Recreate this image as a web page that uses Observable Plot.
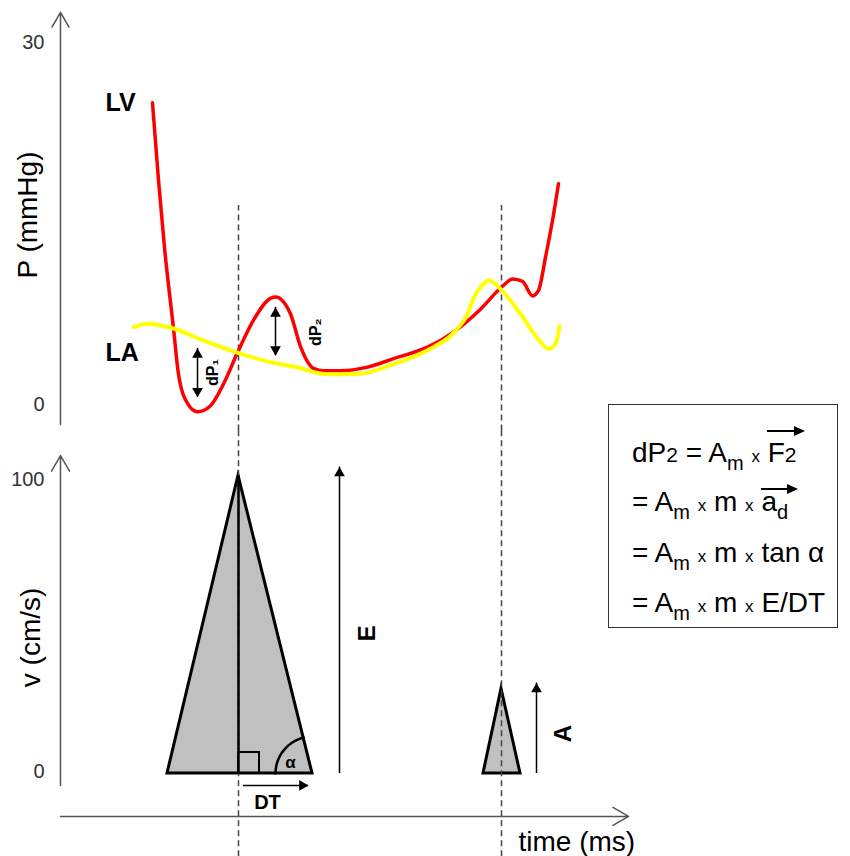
<!DOCTYPE html>
<html><head><meta charset="utf-8">
<script src="https://cdn.jsdelivr.net/npm/d3@7"></script>
<script src="https://cdn.jsdelivr.net/npm/@observablehq/plot@0.6"></script>
<style>
html,body{margin:0;padding:0;background:#fff;}
#wrap{position:relative;width:850px;height:856px;overflow:hidden;font-family:"Liberation Sans",Arial,sans-serif;}
#top{position:absolute;left:0;top:0;}
#bot{position:absolute;left:0;top:430px;}
#box{position:absolute;left:608px;top:404px;width:230px;height:224px;box-sizing:border-box;border:1.5px solid #333;background:#fff;}
.ln{position:absolute;left:23px;font-size:28px;line-height:30px;white-space:nowrap;color:#000;}
.s2{font-size:21px;}
.m{font-size:20px;position:relative;top:8px;}
.x{font-size:17px;}
.vec{position:relative;display:inline-block;}
.vec svg{position:absolute;overflow:visible;}
</style></head>
<body><div id="wrap"><div id="top"></div><div id="bot"></div>
<div id="box">
  <div class="ln" style="top:33px">dP<span class="s2">2</span> = A<span class="m">m</span> <span class="x">x</span> <span class="vec">F<span class="s2">2</span><svg width="38" height="10" style="left:-1px;top:-12px"><line x1="0" y1="5" x2="29" y2="5" stroke="#000" stroke-width="2"/><path d="M27,0L38,5L27,10Z" fill="#000"/></svg></span></div>
  <div class="ln" style="top:82px">= A<span class="m">m</span> <span class="x">x</span> m <span class="x">x</span> <span class="vec">a<span class="m">d</span><svg width="37" height="10" style="left:0px;top:-3px"><line x1="0" y1="5" x2="28" y2="5" stroke="#000" stroke-width="2"/><path d="M26,0L37,5L26,10Z" fill="#000"/></svg></span></div>
  <div class="ln" style="top:133px">= A<span class="m">m</span> <span class="x">x</span> m <span class="x">x</span> tan α</div>
  <div class="ln" style="top:183px">= A<span class="m">m</span> <span class="x">x</span> m <span class="x">x</span> E/DT</div>
</div></div>
<script>
// ---- data ----
const lvTime = [92, 98, 104, 113, 118, 127, 137, 150, 163, 177, 193, 210, 215, 230, 240, 253, 263, 280, 307, 333, 367, 393, 420, 442, 452, 462, 472, 478, 485, 492, 498];
const lvP    = [25.0, 18.6, 13.0, 6.3, 2.5, 0.1, -0.6, -0.1, 1.7, 4.3, 7.0, 8.8, 8.9, 7.5, 4.8, 3.0, 2.8, 2.8, 3.1, 3.8, 4.75, 6.0, 7.9, 9.8, 10.4, 10.2, 9.0, 9.45, 12.2, 15.25, 18.3];
const laTime = [73, 87, 113, 140, 177, 210, 233, 267, 300, 333, 367, 395, 407, 413, 420, 428, 442, 460, 477, 488, 495, 499];
const laP    = [6.4, 6.7, 6.3, 5.4, 4.3, 3.5, 3.15, 2.5, 2.55, 3.35, 4.5, 6.1, 7.5, 8.8, 9.7, 10.3, 9.4, 7.5, 5.5, 4.6, 5.0, 6.5];
const curveNames = ["LV", "LA"];
const curveLabelT = [45, 45];
const curveLabelP = [25.0, 4.3];
const pTicks = [0, 30];
const vTicks = [0, 100];
const dPName = ["dP₁", "dP₂"];
const dPTime = [137, 215];
const dPLow  = [0.6, 4.05];
const dPHigh = [4.65, 8.05];
const dPLabelT = [152, 255];
const dPLabelP = [2.65, 6.0];
const waveName  = ["E", "A"];
const waveStart = [107, 423];
const wavePeakT = [178, 441];
const waveEnd   = [252, 460];
const wavePeakV = [102, 29];
const waveArrowT   = [279, 476];
const waveArrowTop = [105, 31];
const waveLabelT = [307, 503];
const waveLabelV = [48, 13.7];
const dtTime = [183, 248];
const dtLevel = -4.1;

// ---- scales set-up ----
const W = 850, ML = 60, MR = 220;
const xDomain = [0, 570];
const font = "Liberation Sans, Arial, sans-serif";
const pxPerMs = (W - ML - MR) / (xDomain[1] - xDomain[0]);
const lowH = 426, lowMT = 51, lowMB = 83;
const pxPerV = (lowH - lowMT - lowMB) / 100;

const lv = lvTime.map((t, i) => ({t, p: lvP[i]}));
const la = laTime.map((t, i) => ({t, p: laP[i]}));
const dP = dPName.map((n, i) => ({n, t: dPTime[i], lo: dPLow[i], hi: dPHigh[i], lt: dPLabelT[i], lp: dPLabelP[i]}));
const curveLab = curveNames.map((n, i) => ({n, t: curveLabelT[i], p: curveLabelP[i]}));

const topPlot = Plot.plot({
  width: W, height: 430, marginLeft: ML, marginRight: MR, marginTop: 42, marginBottom: 26,
  x: {domain: xDomain, axis: null}, y: {domain: [0, 30], axis: null},
  style: {fontFamily: font, overflow: "visible", background: "transparent"},
  marks: [
    Plot.ruleX(wavePeakT, {x: d => d, y1: -2.2, y2: 16.5, stroke: "#444", strokeWidth: 1.5, strokeDasharray: "6,4"}),
    Plot.arrow([0], {x1: 0, x2: 0, y1: -1.66, y2: 32.5, stroke: "#555", strokeWidth: 1.5, headLength: 17}),
    Plot.text(pTicks, {x: 0, y: d => d, text: d => String(d), textAnchor: "end", dx: -16, fontSize: 20, fill: "#333"}),
    Plot.text(["P (mmHg)"], {x: 0, y: 15.7, text: d => d, rotate: -90, dx: -32, fontSize: 28, fill: "#000"}),
    Plot.line(lv, {x: "t", y: "p", curve: "monotone-x", stroke: "#ff0000", strokeWidth: 3.5}),
    Plot.line(la, {x: "t", y: "p", curve: "monotone-x", stroke: "#ffff00", strokeWidth: 4}),
    Plot.text(curveLab, {x: "t", y: "p", text: "n", textAnchor: "start", fontSize: 25, fontWeight: "bold", fill: "#000"}),
    Plot.ruleX(dP, {x: "t", y1: "lo", y2: "hi", stroke: "#000", strokeWidth: 1.5}),
    Plot.dot(dP, {x: "t", y: "hi", symbol: "triangle", r: 4, fill: "#000", stroke: "none", dy: 6.2}),
    Plot.dot(dP, {x: "t", y: "lo", symbol: "triangle", r: 4, fill: "#000", stroke: "none", rotate: 180, dy: -6.2}),
    Plot.text(dP, {x: "lt", y: "lp", text: "n", rotate: -90, fontSize: 16, fontWeight: "bold", fill: "#000"})
  ]
});
document.getElementById("top").appendChild(topPlot);

// ---- lower panel ----
const waves = waveName.flatMap((w, i) => [
  {w, t: waveStart[i], v: 0}, {w, t: wavePeakT[i], v: wavePeakV[i]}, {w, t: waveEnd[i], v: 0}
]);
const arrowsEA = waveName.map((w, i) => ({w, t: waveArrowT[i], top: waveArrowTop[i], lt: waveLabelT[i], lv: waveLabelV[i]}));
// right-angle mark and angle arc derived from the E triangle geometry
const sq = 21; // px
const rightAngle = [{x1: wavePeakT[0], x2: wavePeakT[0] + sq / pxPerMs, y1: 0, y2: sq / pxPerV}];
const arcR = 37; // px
const dxPx = (wavePeakT[0] - waveEnd[0]) * pxPerMs, dyPx = wavePeakV[0] * pxPerV;
const alpha = Math.atan2(dyPx, -dxPx);
const arc = d3.range(0, 21).map(k => {
  const th = alpha * k / 20;
  return {t: waveEnd[0] - arcR * Math.cos(th) / pxPerMs, v: arcR * Math.sin(th) / pxPerV};
});

const botPlot = Plot.plot({
  width: W, height: lowH, marginLeft: ML, marginRight: MR, marginTop: lowMT, marginBottom: lowMB,
  x: {domain: xDomain, axis: null}, y: {domain: [0, 100], axis: null},
  style: {fontFamily: font, overflow: "visible", background: "transparent"},
  marks: [
    Plot.areaY(waves, {x: "t", y: "v", z: "w", fill: "#c0c0c0", stroke: "#000", strokeWidth: 3, strokeLinejoin: "miter", strokeMiterlimit: 10}),
    Plot.ruleX(wavePeakT, {x: d => d, y1: -28.5, y2: 117.5, stroke: "#444", strokeWidth: 1.5, strokeDasharray: "6,4"}),
    Plot.ruleX([wavePeakT[0]], {x: d => d, y1: 0, y2: wavePeakV[0], stroke: "#000", strokeWidth: 2.5}),
    Plot.rect(rightAngle, {x1: "x1", x2: "x2", y1: "y1", y2: "y2", fill: "none", stroke: "#000", strokeWidth: 2}),
    Plot.line(arc, {x: "t", y: "v", stroke: "#000", strokeWidth: 2.5}),
    Plot.text(["α"], {x: 230, y: 3.8, text: d => d, fontSize: 17, fontWeight: "bold", fill: "#000"}),
    Plot.ruleX(arrowsEA, {x: "t", y1: 0, y2: "top", stroke: "#000", strokeWidth: 1.5}),
    Plot.dot(arrowsEA, {x: "t", y: "top", symbol: "triangle", r: 4, fill: "#000", stroke: "none", dy: 6.2}),
    Plot.text(arrowsEA, {x: "lt", y: "lv", text: "w", rotate: -90, fontSize: 24, fontWeight: "bold", fill: "#000"}),
    Plot.ruleY([dtLevel], {y: d => d, x1: dtTime[0], x2: dtTime[1], stroke: "#000", strokeWidth: 1.5}),
    Plot.dot([dtLevel], {x: dtTime[1], y: d => d, symbol: "triangle", r: 4, fill: "#000", stroke: "none", rotate: 90, dx: -6.2}),
    Plot.text(["DT"], {x: 207, y: -9.9, text: d => d, fontSize: 20, fontWeight: "bold", fill: "#000"}),
    Plot.arrow([0], {x1: 0, x2: 0, y1: -4.1, y2: 108.9, stroke: "#555", strokeWidth: 1.5, headLength: 18}),
    Plot.arrow([0], {x1: 0, x2: 568, y1: -14.7, y2: -14.7, stroke: "#555", strokeWidth: 1.5, headLength: 18}),
    Plot.text(vTicks, {x: 0, y: d => d, text: d => String(d), textAnchor: "end", dx: -16, dy: -2, fontSize: 20, fill: "#333"}),
    Plot.text(["v (cm/s)"], {x: 0, y: 46.6, text: d => d, rotate: -90, dx: -29, fontSize: 28, fill: "#000"}),
    Plot.text(["time (ms)"], {x: 458, y: -23.3, text: d => d, textAnchor: "start", fontSize: 28, fill: "#000"})
  ]
});
document.getElementById("bot").appendChild(botPlot);
</script>
</body></html>
